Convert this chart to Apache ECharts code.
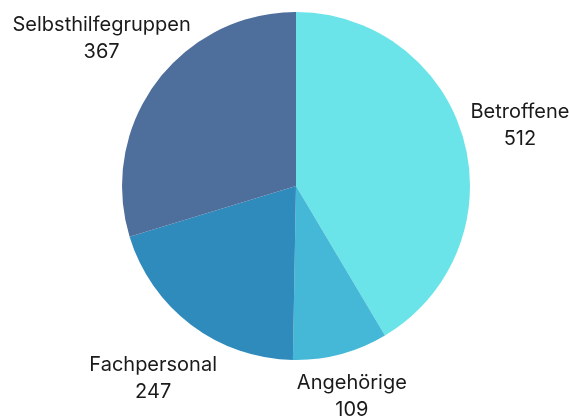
<!DOCTYPE html>
<html>
<head>
<meta charset="utf-8">
<script src="https://cdn.jsdelivr.net/npm/echarts@6/dist/echarts.min.js"></script>
<style>
html,body{margin:0;padding:0;background:#fff;}
#c{width:569px;height:416px;}
</style>
</head>
<body>
<div id="c"></div>
<script>
const categories = ['Betroffene', 'Angehörige', 'Fachpersonal', 'Selbsthilfegruppen'];
const values = [512, 109, 247, 367];
const colors = ['#6ae4e9', '#44b8d6', '#2e8bbc', '#4e6e9b'];

const CX = 296, CY = 186, R = 174, LABEL_DIST = 190;
const labelNudge = [[-7, -3], [-7, 0.5], [10, 19], [30, -18]];

const total = values.reduce((a, b) => a + b, 0);
const chart = echarts.init(document.getElementById('c'), null, {renderer: 'canvas'});

chart.setOption({
  animation: false,
  backgroundColor: '#ffffff',
  series: [{
    type: 'pie',
    center: [CX, CY],
    radius: R,
    startAngle: 90,
    clockwise: true,
    avoidLabelOverlap: false,
    data: categories.map((n, i) => ({name: n, value: values[i], itemStyle: {color: colors[i]}})),
    label: {
      show: true,
      position: 'outside',
      formatter: '{b}\n{c}',
      fontFamily: 'Inter',
      fontSize: 20,
      lineHeight: 27,
      color: '#1a1a1a',
      overflow: 'none',
      width: null
    },
    labelLine: {show: false},
    labelLayout: function (p) {
      const i = p.dataIndex;
      let before = 0;
      for (let k = 0; k < i; k++) before += values[k];
      const mid = (before + values[i] / 2) / total * Math.PI * 2;
      const dx = Math.sin(mid), dy = -Math.cos(mid);
      const w = p.labelRect.width, h = p.labelRect.height;
      const x = CX + dx * LABEL_DIST + dx * w / 2 + labelNudge[i][0];
      const y = CY + dy * LABEL_DIST + dy * h / 2 + labelNudge[i][1];
      return {x: x, y: y, align: 'center', verticalAlign: 'middle'};
    },
    emphasis: {disabled: true}
  }]
});
</script>
</body>
</html>
